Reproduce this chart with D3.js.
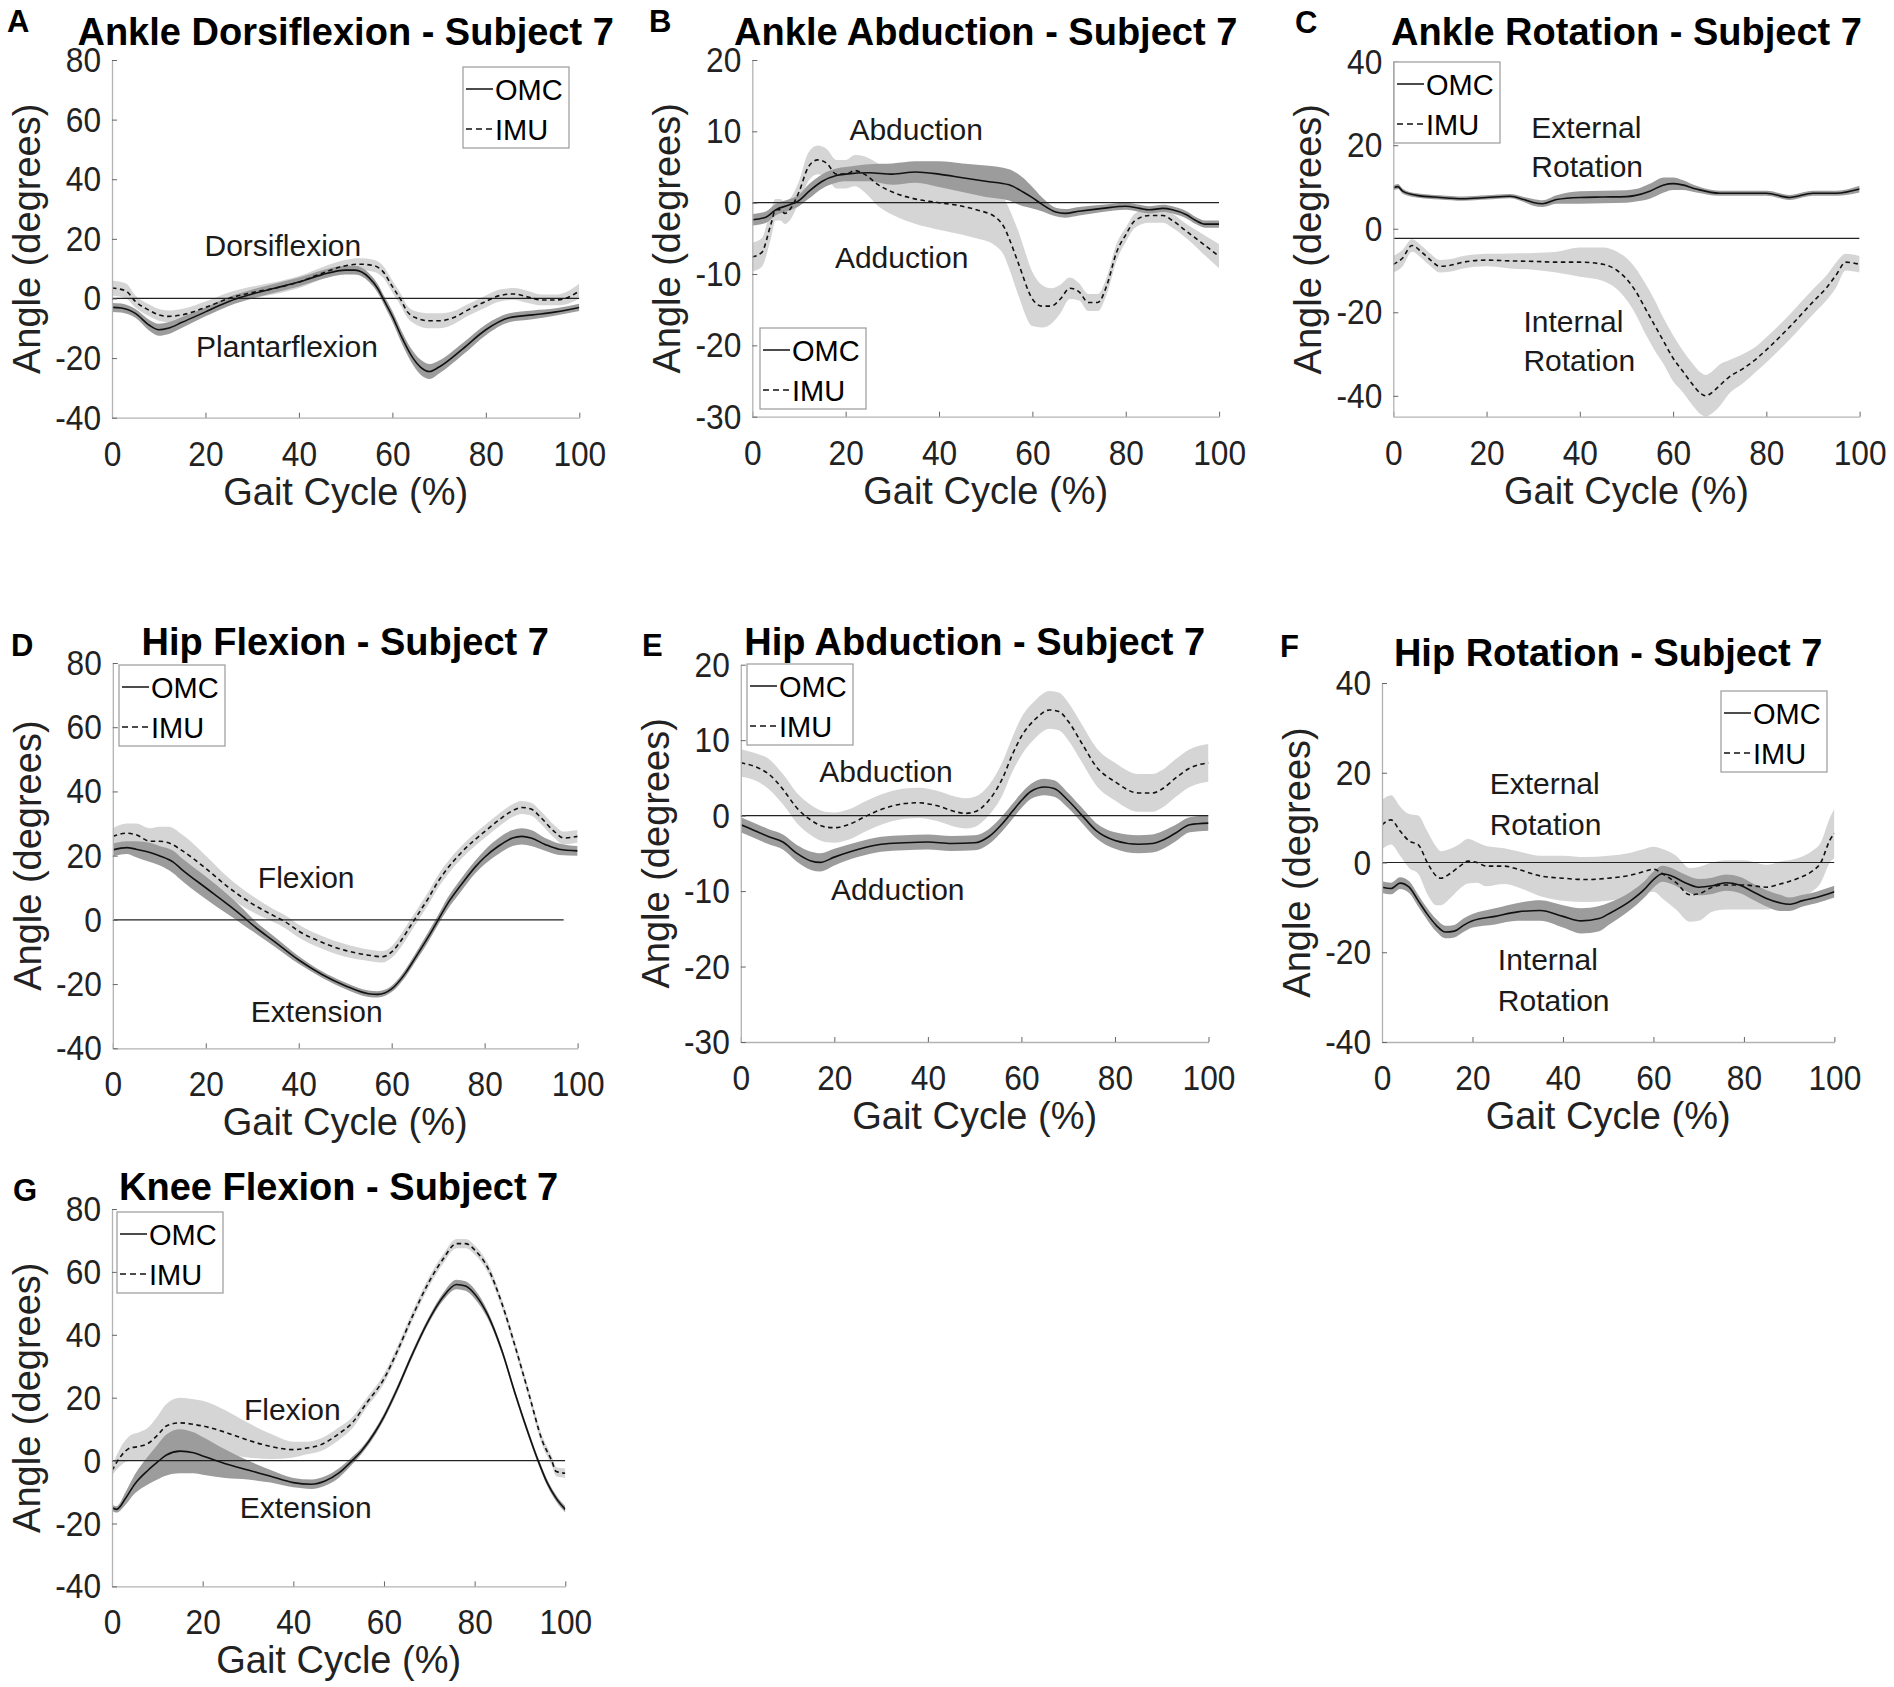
<!DOCTYPE html>
<html>
<head>
<meta charset="utf-8">
<script src="https://cdn.jsdelivr.net/npm/d3@7"></script>
<style>
  body { margin: 0; background: #fff; }
  text { font-family: "Liberation Sans", Arial, sans-serif; }
</style>
</head>
<body>
<div id="root"></div>
<script>
// ---- data (gait cycle %, angle in degrees; sd = half width of shaded band) ----
const gaitTicks = [0, 20, 40, 60, 80, 100];

// A: ankle dorsiflexion
const aOmcX  = [0,2,5,8,10,12,15,20,25,30,35,40,45,50,52,55,57,58,60,62,64,66,68,70,75,80,85,90,95,100];
const aOmc   = [-3,-3.2,-5,-9,-10.5,-10,-8,-4.5,-1,1.5,3.5,5.5,8,9.5,9.5,7,3,0,-6,-13,-19,-23,-24.5,-23,-17,-10.5,-6.5,-5.5,-4.5,-3];
const aOmcSd = [1.5,1.5,1.5,1.8,2,2,1.8,1.5,1.5,1.5,1.5,1.5,1.5,1.5,1.5,1.5,1.5,1.5,1.8,2,2.2,2.5,2.5,2.2,2,1.8,1.5,1.5,1.2,1.2];
const aImuX  = [0,3,5,8,10,12,15,20,25,30,35,40,45,50,53,56,58,60,62,63,65,68,70,73,76,80,83,86,89,92,95,97,100];
const aImu   = [3.5,2.5,-1,-4,-5.5,-6,-5.5,-3,0,2,3.5,5.5,8.5,11,11.5,11,9,4,-1,-4,-6.5,-7.5,-7.5,-6.5,-4,-1,1,1.5,0.5,-0.5,-0.5,0,2.5];
const aImuSd = [2.5,2.5,2,2,2,2,2,2,2,2,2,2,2,2,2,2,2,2,2,2,2.2,2.5,2.5,2.2,2,2,2,2,2,1.8,1.8,2,2.5];

// B: ankle abduction
const bOmcX  = [0,3,5,8,10,12,15,18,20,25,30,35,40,45,50,55,58,60,62,65,67,70,75,80,83,85,88,90,93,95,97,100];
const bOmc   = [-2.4,-2,-1,-0.3,0.3,1.5,3,3.8,4,4.2,4,4.3,4,3.5,3,2.5,1.5,0.7,-0.2,-1.3,-1.5,-1.2,-0.8,-0.5,-0.8,-1,-0.8,-1,-1.7,-2.5,-3,-3];
const bOmcSd = [0.8,0.8,0.8,0.8,0.8,1,1,1,1,1.2,1.5,1.5,1.8,2,2.2,2.2,2,1.5,1,0.6,0.6,0.6,0.5,0.5,0.5,0.5,0.5,0.5,0.5,0.5,0.5,0.5];
const bImuX  = [0,2,4,5,6,7,8,10,12,14,16,18,20,22,24,27,30,35,40,45,48,52,54,55,57,60,62,64,66,68,70,72,74,76,78,80,82,85,88,90,93,96,100];
const bImu   = [-7.6,-7,-3,-1,-1,-1.5,-1,1.5,5,6,5.5,4,4,4.5,4,2.5,1.5,0.5,0,-0.5,-1,-2,-3.5,-5,-8.5,-13.5,-14.5,-14.5,-13.5,-12,-12.5,-14,-14,-11.5,-7,-4.5,-2.5,-1.8,-1.8,-2.5,-4,-5.5,-7.5];
const bImuSd = [2,2,2,1.5,1.5,1.5,1.5,1.5,2,2,2,2,2,2.2,2.5,3,3.2,3.5,3.8,4,4,4,4,4.2,4.5,3.8,3,2.5,2,1.5,1.2,1.2,1.2,1.2,1.2,1,1,1,1,1,1,1.3,1.7];

// C: ankle rotation
const cOmcX  = [0,1,2,5,10,15,20,25,28,30,32,35,40,45,50,52,55,58,60,62,65,70,75,80,85,90,95,100];
const cOmc   = [9.8,10.1,9,8,7.5,7.2,7.5,7.8,7,6.3,6,7,7.5,7.6,7.7,8,9,10.5,10.8,10.5,9.5,8.5,8.5,8.5,7.5,8.5,8.5,9.5];
const cOmcSd = [0.6,0.6,0.6,0.5,0.5,0.5,0.5,0.5,0.6,0.8,0.8,1,1.5,1.5,1.5,1.5,1.8,1.8,1.5,1.2,0.8,0.6,0.6,0.6,0.6,0.6,0.6,0.8];
const cImuX  = [0,2,4,6,8,10,12,15,20,25,30,35,40,45,48,50,52,54,56,58,60,62,64,66,67,68,70,72,75,78,80,85,90,93,95,97,100];
const cImu   = [-8.5,-7,-4,-5.5,-7.5,-9,-8.8,-8,-7.5,-7.7,-7.8,-8,-8,-8.5,-10,-12,-15,-19,-23,-27,-31,-34,-37,-39.5,-40,-39.5,-37.5,-35.5,-33.5,-31,-29,-23.5,-17.5,-14,-11,-8,-8.5];
const cImuSd = [2,2,1.5,1.5,1.5,1.5,1.5,1.5,1.5,1.8,2,2.5,3.5,4,4.5,5,5.5,6,6,5.5,5.5,5,5,5,5,5,5,4,3.5,3,3,3,3,3,3,2,2];

// D: hip flexion
const dOmcX  = [0,3,5,8,10,13,15,20,25,28,30,35,40,45,50,55,57,60,63,65,68,70,72,75,78,80,83,86,88,90,93,96,100];
const dOmc   = [21.8,22.5,22,21,20,18,15.5,10,4.5,1,-1.5,-7,-12.5,-17,-20.5,-23,-23.2,-21.5,-16.5,-12,-5,0,5,11,16.5,19.5,23,25.5,26,25.5,23.5,22,21.5];
const dOmcSd = [2,2,2.5,3,3,3.5,3.5,3.5,3,2.5,2,1.5,1.2,1,1,1,1,1,1.2,1.3,1.5,1.5,1.8,2,2,2.2,2.5,2.5,2.5,2.5,2,1.8,1.5];
const dImuX  = [0,3,5,8,10,12,15,20,25,30,35,37,40,45,50,55,58,60,62,64,66,68,70,72,75,80,83,86,88,90,92,95,97,100];
const dImu   = [26,27,26.5,24.5,24.5,24,21.5,16,10,5,1,-0.5,-3.5,-7,-9.5,-11,-11.5,-10,-6.5,-2,2.5,7,12,16,21,27.5,31,34,35,34.5,32,27.5,25.5,26];
const dImuSd = [2.5,3,3.5,4,4.5,5,5,4,3,2.5,2,2,2,2,2,1.8,1.8,1.8,2,2,2,2,2,2,2,2,2,2,2,2,2,2,2,2];

// E: hip abduction
const eOmcX  = [0,3,6,9,12,15,17,20,25,30,35,40,45,50,53,56,58,60,62,65,67,70,73,76,80,85,88,90,93,96,100];
const eOmc   = [-1.2,-2,-2.8,-3.5,-5,-6,-6.2,-5.5,-4.5,-3.8,-3.6,-3.5,-3.7,-3.6,-2.8,-1,0.5,2,3.2,3.8,3.6,2,0,-2,-3.3,-3.8,-3.7,-3.3,-2.3,-1.2,-1];
const eOmcSd = [1,1,1,1,1.1,1.2,1.2,1.1,1,1,1,1,1,1,1,1,1,1,1,1.1,1.1,1,1,1,1.1,1.2,1.2,1.2,1.1,1,1];
const eImuX  = [0,3,6,9,12,15,18,20,23,27,30,35,38,42,46,48,50,53,56,58,60,63,66,68,70,73,76,80,85,88,90,93,96,100];
const eImu   = [7,6.5,5.5,3.5,1,-0.6,-1.5,-1.6,-1.2,0,0.8,1.6,1.7,1.3,0.5,0.3,0.5,2,5,8,10.5,12.8,14,13.8,12.5,9.5,6.5,4.5,3,3,3.5,5,6.3,7];
const eImuSd = [1.8,1.8,2,2,2,2,2,2,2,2,2,2,2,2,2,2,2,2,2.2,2.3,2.5,2.5,2.5,2.5,2.5,2.5,2.5,2.5,2.5,2.5,2.5,2.5,2.5,2.5];

// F: hip rotation
const fOmcX  = [0,2,4,6,8,10,12,14,16,18,20,25,30,35,40,44,48,50,55,58,60,62,64,67,70,73,76,79,82,85,88,90,93,96,100];
const fOmc   = [-5.5,-5.8,-4.6,-5.5,-8.5,-11.5,-14,-15.5,-15.3,-14,-13,-12,-11,-10.7,-12,-13,-12.5,-11.5,-8.5,-6,-3.8,-2.5,-3,-4.5,-5.5,-5.2,-4.5,-5,-6.5,-8,-9,-9.3,-8.5,-7.8,-6.5];
const fOmcSd = [1.3,1.3,1.3,1.3,1.3,1.3,1.4,1.4,1.4,1.5,1.5,1.8,2,2.3,2.5,2.8,2.8,2.5,2,1.8,1.8,1.8,1.8,1.8,1.8,1.8,1.8,1.8,1.8,1.8,1.8,1.5,1.3,1.3,1.3];
const fImuX  = [0,2,4,6,8,10,12,13,15,17,19,21,23,27,30,35,40,45,50,55,58,60,62,65,68,70,73,76,80,85,88,92,95,97,99,100];
const fImu   = [8.4,9.5,7,4.8,4,0,-3,-3.5,-2.5,-1,0.3,0,-0.8,-0.8,-1.5,-3,-3.5,-3.8,-3.5,-2.8,-2,-1.5,-2.5,-4.5,-7.2,-7,-5.5,-5,-5,-5.5,-4.8,-3.5,-2,0,5,6.5];
const fImuSd = [5.5,5.5,5.5,6,6.5,7,6.5,6,5.5,5,5,4.5,4.5,4,4,4.5,5,5,5,5,5,5,5.5,6,6,6,5.5,5.5,5.5,5,5,4.5,4.5,4.5,5,5.5];

// G: knee flexion
const gOmcX  = [0,1,3,5,8,10,12,15,18,20,25,30,35,40,44,47,50,53,55,58,60,63,66,70,73,76,78,80,83,86,89,92,94,96,98,100];
const gOmc   = [-15,-15.5,-12,-7.5,-3,-0.5,1.8,3,2.5,1.5,-1,-3,-5,-7,-7.5,-6.5,-4,0,3,9,14,23,33,45,52,56,55.5,53,46,35,21,8,0,-7,-12,-15.5];
const gOmcSd = [1,1,2,3,4.5,5.5,6.5,7,6.5,6,4.5,3,2,1.5,1.5,1.5,1.5,1.2,1,1,1,1,1,1,1.2,1.5,1.5,1.5,1.2,1,1,1,1,1,1,1];
const gImuX  = [0,2,4,6,8,10,12,15,18,20,25,30,35,40,43,46,50,53,56,60,63,66,70,73,76,78,80,83,86,89,92,95,97,98,100];
const gImu   = [-3.2,1.5,4,4.5,5.5,8,11,12,11.5,11,9,6.5,4.5,3.5,4,5,8.5,12,18,26,35,45,57,64,69,69,67,61,50,36,21,6,0,-3.5,-4];
const gImuSd = [1.5,3,4,4.5,5,6,7,8,8,8,7,5.5,4,2.5,2,2,2,1.8,1.5,1.5,1.5,1.5,1.5,1.5,1.5,1.5,1.5,1.5,1.5,1.5,1.5,1.5,1.5,1.5,1.5];

// ---- layout ----
const W = 1894, H = 1687;
const panels = [
  {letter: "A", title: "Ankle Dorsiflexion - Subject 7", box: [112, 579.3, 60, 417.7], yDomain: [-40, 80], yTicks: [-40,-20,0,20,40,60,80],
   letterPos: [7, 32], titleY: 45, refY: 0, refEnd: 100, legend: [463, 67],
   notes: [["Dorsiflexion", 19.8, 14.2], ["Plantarflexion", 18.0, -19.7]],
   omc: [aOmcX, aOmc, aOmcSd], imu: [aImuX, aImu, aImuSd]},
  {letter: "B", title: "Ankle Abduction - Subject 7", box: [752.3, 1219.1, 60, 416.7], yDomain: [-30, 20], yTicks: [-30,-20,-10,0,10,20],
   letterPos: [649, 32], titleY: 45, refY: 0, refEnd: 100, legend: [760, 328],
   notes: [["Abduction", 20.8, 8.8], ["Adduction", 17.7, -9.2]],
   omc: [bOmcX, bOmc, bOmcSd], imu: [bImuX, bImu, bImuSd]},
  {letter: "C", title: "Ankle Rotation - Subject 7", box: [1393.3, 1859.6, 61.7, 416.7], yDomain: [-45, 40], yTicks: [-40,-20,0,20,40],
   letterPos: [1295, 33], titleY: 45, refY: -2.3, refEnd: 100, legend: [1394, 62],
   notes: [["External", 29.6, 21.8], ["Rotation", 29.6, 12.5], ["Internal", 27.9, -24.7], ["Rotation", 27.9, -34.1]],
   omc: [cOmcX, cOmc, cOmcSd], imu: [cImuX, cImu, cImuSd]},
  {letter: "D", title: "Hip Flexion - Subject 7", box: [112.8, 577.6, 663, 1048.3], yDomain: [-40, 80], yTicks: [-40,-20,0,20,40,60,80],
   letterPos: [11, 656], titleY: 655, refY: 0, refEnd: 97, legend: [119, 665],
   notes: [["Flexion", 31.2, 9.9], ["Extension", 29.7, -31.9]],
   omc: [dOmcX, dOmc, dOmcSd], imu: [dImuX, dImu, dImuSd]},
  {letter: "E", title: "Hip Abduction - Subject 7", box: [740.8, 1208.5, 664.7, 1042], yDomain: [-30, 20], yTicks: [-30,-20,-10,0,10,20],
   letterPos: [642, 656], titleY: 655, refY: 0, refEnd: 100, legend: [747, 664],
   notes: [["Abduction", 16.8, 4.5], ["Adduction", 19.3, -11.2]],
   omc: [eOmcX, eOmc, eOmcSd], imu: [eImuX, eImu, eImuSd]},
  {letter: "F", title: "Hip Rotation - Subject 7", box: [1382, 1834.4, 683, 1042], yDomain: [-40, 40], yTicks: [-40,-20,0,20,40],
   letterPos: [1280, 657], titleY: 666, refY: 0, refEnd: 100, legend: [1721, 691],
   notes: [["External", 23.8, 15.3], ["Rotation", 23.8, 6.2], ["Internal", 25.6, -23.9], ["Rotation", 25.6, -33.1]],
   omc: [fOmcX, fOmc, fOmcSd], imu: [fImuX, fImu, fImuSd]},
  {letter: "G", title: "Knee Flexion - Subject 7", box: [112, 565.3, 1209, 1586.4], yDomain: [-40, 80], yTicks: [-40,-20,0,20,40,60,80],
   letterPos: [13, 1201], titleY: 1200, refY: 0, refEnd: 100, legend: [117, 1212],
   notes: [["Flexion", 29.1, 12.9], ["Extension", 28.2, -18.3]],
   omc: [gOmcX, gOmc, gOmcSd], imu: [gImuX, gImu, gImuSd]}
];

const lightBand = "#d5d5d5", darkBand = "#9c9c9c", axisGray = "#b3b3b3", ink = "#1a1a1a";

const svg = d3.select("#root").append("svg")
  .attr("width", W).attr("height", H)
  .style("background", "#fff");

function zipSeries(s) {
  return s[0].map((x, i) => ({x: x, m: s[1][i], sd: s[2][i]}));
}

panels.forEach((p, idx) => {
  const [x0, x1, y0, y1] = p.box;
  const x = d3.scaleLinear().domain([0, 100]).range([x0, x1]);
  const y = d3.scaleLinear().domain(p.yDomain).range([y1, y0]);
  const g = svg.append("g").attr("class", "panel");

  const clipId = "clip" + idx;
  svg.append("clipPath").attr("id", clipId)
    .append("rect").attr("x", x0).attr("y", y0).attr("width", x1 - x0).attr("height", y1 - y0);

  const band = d3.area().curve(d3.curveMonotoneX)
    .x(d => x(d.x)).y0(d => y(d.m - d.sd)).y1(d => y(d.m + d.sd));
  const mean = d3.line().curve(d3.curveMonotoneX)
    .x(d => x(d.x)).y(d => y(d.m));

  const omc = zipSeries(p.omc), imu = zipSeries(p.imu);
  const plot = g.append("g").attr("clip-path", `url(#${clipId})`);

  plot.append("path").datum(imu).attr("d", band).attr("fill", lightBand);
  plot.append("path").datum(omc).attr("d", band).attr("fill", darkBand);

  // reference line
  plot.append("line")
    .attr("x1", x(0)).attr("x2", x(p.refEnd))
    .attr("y1", y(p.refY)).attr("y2", y(p.refY))
    .attr("stroke", "#222").attr("stroke-width", 1.2);

  plot.append("path").datum(omc).attr("d", mean)
    .attr("fill", "none").attr("stroke", "#111").attr("stroke-width", 1.6);
  plot.append("path").datum(imu).attr("d", mean)
    .attr("fill", "none").attr("stroke", "#111").attr("stroke-width", 1.6)
    .attr("stroke-dasharray", "4.5,3.5");

  // axes (plain hyphen minus, as in the figure)
  const fmt = d => String(d);
  const xAxis = g.append("g").attr("transform", `translate(0,${y1})`)
    .call(d3.axisBottom(x).tickValues(gaitTicks).tickFormat(fmt)
      .tickSizeInner(-5).tickSizeOuter(0).tickPadding(22.5));
  const yAxis = g.append("g").attr("transform", `translate(${x0},0)`)
    .call(d3.axisLeft(y).tickValues(p.yTicks).tickFormat(fmt)
      .tickSizeInner(-5).tickSizeOuter(0).tickPadding(12.5));
  [xAxis, yAxis].forEach(a => {
    a.attr("font-family", null).attr("font-size", null);
    a.select(".domain").attr("stroke", axisGray).attr("stroke-width", 1.3);
    a.selectAll(".tick line").attr("stroke", "#666").attr("stroke-width", 1);
    a.selectAll(".tick text").attr("fill", "#222").style("font-size", "36px")
      .attr("transform", "scale(0.88,1)");
  });

  // axis labels
  g.append("text")
    .attr("x", (x0 + x1) / 2).attr("y", y1 + 87)
    .attr("text-anchor", "middle").attr("fill", "#222")
    .style("font-size", "38px").text("Gait Cycle (%)");
  g.append("text")
    .attr("transform", `translate(${x0 - 72},${(y0 + y1) / 2}) rotate(-90)`)
    .attr("text-anchor", "middle").attr("fill", "#222")
    .style("font-size", "38px").text("Angle (degrees)");

  // title + panel letter
  g.append("text")
    .attr("x", (x0 + x1) / 2).attr("y", p.titleY)
    .attr("text-anchor", "middle").attr("fill", "#000")
    .style("font-size", "38px").style("font-weight", "bold").text(p.title);
  g.append("text")
    .attr("x", p.letterPos[0]).attr("y", p.letterPos[1])
    .attr("fill", "#000").style("font-size", "31px").style("font-weight", "bold")
    .text(p.letter);

  // region annotations
  g.selectAll("text.note").data(p.notes).enter().append("text")
    .attr("class", "note")
    .attr("x", d => x(d[1])).attr("y", d => y(d[2]))
    .attr("fill", ink).style("font-size", "30px")
    .text(d => d[0]);

  // legend
  const lg = g.append("g").attr("transform", `translate(${p.legend[0]},${p.legend[1]})`);
  lg.append("rect").attr("width", 106).attr("height", 81)
    .attr("fill", "#fff").attr("stroke", "#9a9a9a").attr("stroke-width", 1.2);
  const rows = [["OMC", null], ["IMU", "6,4"]];
  rows.forEach((r, i) => {
    const cy = 22 + i * 40;
    lg.append("line").attr("x1", 3).attr("x2", 30).attr("y1", cy).attr("y2", cy)
      .attr("stroke", "#111").attr("stroke-width", 1.5)
      .attr("stroke-dasharray", r[1]);
    lg.append("text").attr("x", 32).attr("y", cy + 11)
      .attr("fill", "#000").style("font-size", "29px").text(r[0]);
  });
});
</script>
</body>
</html>
